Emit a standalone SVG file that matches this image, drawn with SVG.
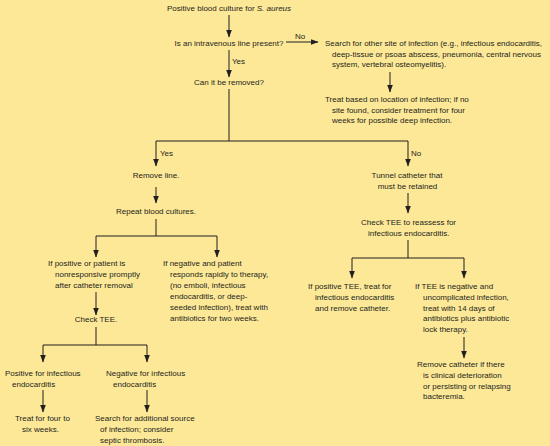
<svg xmlns="http://www.w3.org/2000/svg" width="550" height="446" viewBox="0 0 550 446">
<defs>
<marker id="ah" viewBox="0 0 8 6" refX="7.5" refY="3" markerWidth="8" markerHeight="6" markerUnits="userSpaceOnUse" orient="auto">
<path d="M0,0 L8,3 L0,6 z" fill="#231f20"/>
</marker>
<style>
text{font-family:"Liberation Sans",Arial,sans-serif;font-size:8px;fill:#231f20}
.c{text-anchor:middle}
.ln{fill:none;stroke:#231f20;stroke-width:1}
.ar{fill:none;stroke:#231f20;stroke-width:1;marker-end:url(#ah)}
</style>
</defs>
<rect width="550" height="446" fill="#fde897"/>
<g id="connectors">
<line class="ar" x1="229" y1="15" x2="229" y2="37"/>
<line class="ar" x1="229" y1="50" x2="229" y2="77"/>
<line class="ar" x1="286" y1="42" x2="318" y2="42"/>
<line class="ar" x1="390" y1="72" x2="390" y2="92"/>
<path class="ln" d="M229,89 V141"/>
<path class="ar" d="M229,141 H156 V166"/>
<path class="ar" d="M229,141 H408 V166"/>
<line class="ar" x1="156" y1="187" x2="156" y2="203"/>
<path class="ln" d="M156,219 V236"/>
<path class="ar" d="M156,236 H96 V257"/>
<path class="ar" d="M156,236 H217 V257"/>
<line class="ar" x1="96" y1="292" x2="96" y2="315"/>
<path class="ln" d="M96,327 V345"/>
<path class="ar" d="M96,345 H43 V362"/>
<path class="ar" d="M96,345 H147 V362"/>
<line class="ar" x1="43" y1="390" x2="43" y2="412"/>
<line class="ar" x1="147" y1="390" x2="147" y2="412"/>
<line class="ar" x1="408" y1="193" x2="408" y2="213"/>
<path class="ln" d="M408,240 V258"/>
<path class="ar" d="M408,258 H352 V278"/>
<path class="ar" d="M408,258 H464 V278"/>
<line class="ar" x1="464" y1="337" x2="464" y2="358"/>
<text x="232" y="64">Yes</text>
<text x="295" y="39">No</text>
<text x="160" y="156">Yes</text>
<text x="411" y="156">No</text>
</g>
<g id="n-start"><text class="c" x="229" y="11">Positive blood culture for <tspan font-style="italic">S. aureus</tspan></text></g>
<g id="n-iv"><text class="c" x="229" y="46">Is an intravenous line present?</text></g>
<g id="n-search"><text x="325" y="46">Search for other site of infection (e.g., infectious endocarditis,</text><text x="332" y="56.5">deep-tissue or psoas abscess, pneumonia, central nervous</text><text x="332" y="67">system, vertebral osteomyelitis).</text></g>
<g id="n-treatloc"><text x="325" y="102">Treat based on location of infection; if no</text><text x="332" y="112.5">site found, consider treatment for four</text><text x="332" y="123">weeks for possible deep infection.</text></g>
<g id="n-remove"><text class="c" x="229" y="85">Can it be removed?</text></g>
<g id="n-removeline"><text class="c" x="156" y="178">Remove line.</text></g>
<g id="n-repeat"><text class="c" x="156" y="214">Repeat blood cultures.</text></g>
<g id="n-pos"><text x="48" y="266">If positive or patient is</text><text x="55" y="277">nonresponsive promptly</text><text x="55" y="288">after catheter removal</text></g>
<g id="n-neg"><text x="163" y="266">If negative and patient</text><text x="170" y="277">responds rapidly to therapy,</text><text x="170" y="288">(no emboli, infectious</text><text x="170" y="299">endocarditis, or deep-</text><text x="170" y="310">seeded infection), treat with</text><text x="170" y="320.5">antibiotics for two weeks.</text></g>
<g id="n-checktee"><text class="c" x="96" y="322">Check TEE.</text></g>
<g id="n-posie"><text x="5" y="376">Positive for infectious</text><text x="12" y="386.5">endocarditis</text></g>
<g id="n-negie"><text x="106" y="376">Negative for infectious</text><text x="113" y="386.5">endocarditis</text></g>
<g id="n-treat46"><text x="15" y="421">Treat for four to</text><text x="22" y="431.5">six weeks.</text></g>
<g id="n-searchadd"><text x="95" y="421">Search for additional source</text><text x="100" y="432">of infection; consider</text><text x="100" y="442.5">septic thrombosis.</text></g>
<g id="n-tunnel"><text class="c" x="407" y="178">Tunnel catheter that</text><text class="c" x="407.5" y="189">must be retained</text></g>
<g id="n-checktee2"><text x="361" y="225">Check TEE to reassess for</text><text x="368" y="235.5">infectious endocarditis.</text></g>
<g id="n-postee"><text x="308" y="289">If positive TEE, treat for</text><text x="315" y="300">infectious endocarditis</text><text x="315" y="310.5">and remove catheter.</text></g>
<g id="n-negtee"><text x="415" y="289">If TEE is negative and</text><text x="423" y="300">uncomplicated infection,</text><text x="423" y="310.5">treat with 14 days of</text><text x="423" y="321">antibiotics plus antibiotic</text><text x="423" y="331.5">lock therapy.</text></g>
<g id="n-removecath"><text x="417" y="367">Remove catheter if there</text><text x="423" y="378">is clinical deterioration</text><text x="423" y="388.5">or persisting or relapsing</text><text x="423" y="399">bacteremia.</text></g>
</svg>
